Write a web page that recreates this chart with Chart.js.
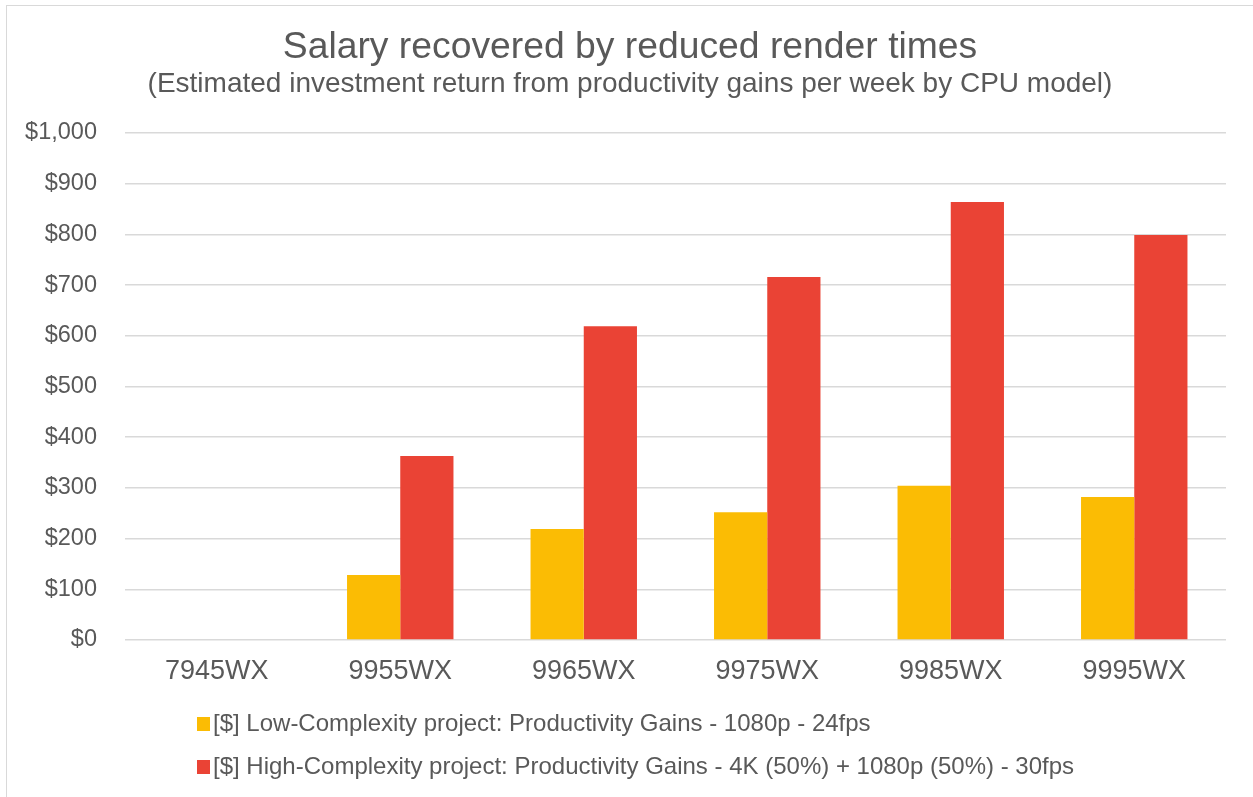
<!DOCTYPE html>
<html>
<head>
<meta charset="utf-8">
<script src="https://cdn.jsdelivr.net/npm/chart.js@4/dist/chart.umd.min.js"></script>
<style>
  html, body { margin: 0; padding: 0; background: #fff; }
  #frame { position: absolute; left: 6px; top: 5px; width: 1400px; height: 900px; border: 1px solid #d9d9d9; }
  #myChart { position: absolute; left: 0; top: 0; }
</style>
</head>
<body>
<div id="frame"></div>
<canvas id="myChart" width="1253" height="797"></canvas>
<script>
const cpuModels = ['7945WX', '9955WX', '9965WX', '9975WX', '9985WX', '9995WX'];
const lowComplexity = [0, 128, 219, 252, 304, 282];
const highComplexity = [0, 363, 619, 716, 864, 799];
const seriesNames = [
  '[$] Low-Complexity project: Productivity Gains - 1080p - 24fps',
  '[$] High-Complexity project: Productivity Gains - 4K (50%) + 1080p (50%) - 30fps'
];
const seriesColors = ['#FBBC04', '#EA4335'];

const textColor = '#595959';
const fontFamily = '"Liberation Sans", Arial, sans-serif';

// the original title is centred a bit right of the canvas middle
const titleShift = {
  id: 'titleShift',
  afterLayout(chart) {
    chart.boxes.filter((box) => box.position === 'top').forEach((box) => {
      box.left = 34;
    });
  }
};

// legend drawn under the axis, rows left-aligned like the original
const bottomLegend = {
  id: 'bottomLegend',
  afterDraw(chart) {
    const ctx = chart.ctx;
    const area = chart.chartArea;
    ctx.save();
    ctx.font = '24px ' + fontFamily;
    ctx.textBaseline = 'middle';
    ctx.textAlign = 'left';
    chart.data.datasets.forEach((set, i) => {
      const y = area.bottom + 84 + i * 43;
      const x = area.left + 72;
      ctx.fillStyle = set.backgroundColor;
      ctx.fillRect(x, y - 7, 13, 14);
      ctx.fillStyle = textColor;
      ctx.fillText(set.label, x + 16, y);
    });
    ctx.restore();
  }
};

function initChart(target) {
  const data = {
    labels: cpuModels,
    datasets: [
      { label: seriesNames[0], data: lowComplexity, backgroundColor: seriesColors[0] },
      { label: seriesNames[1], data: highComplexity, backgroundColor: seriesColors[1] }
    ]
  };

  const config = {
    type: 'bar',
    data: data,
    plugins: [titleShift, bottomLegend],
    options: {
      responsive: false,
      animation: false,
      categoryPercentage: 0.58,
      barPercentage: 1.0,
      layout: { padding: { top: 0, left: 0, right: 27, bottom: 0 } },
      plugins: {
        legend: { display: false },
        tooltip: { enabled: false },
        title: {
          display: true,
          text: 'Salary recovered by reduced render times',
          color: textColor,
          font: { family: fontFamily, size: 37.3, weight: 'normal', lineHeight: 1 },
          padding: { top: 28.85, bottom: 0 }
        },
        subtitle: {
          display: true,
          text: '(Estimated investment return from productivity gains per week by CPU model)',
          color: textColor,
          font: { family: fontFamily, size: 28, weight: 'normal', lineHeight: 1 },
          padding: { top: 4, bottom: 34.85 }
        }
      },
      scales: {
        x: {
          grid: { display: false, drawTicks: false },
          border: { display: false },
          ticks: { color: textColor, padding: 15, font: { family: fontFamily, size: 27 } },
          afterFit: (scale) => { scale.height = 157; }
        },
        y: {
          min: 0,
          max: 1000,
          grid: { color: '#d9d9d9', lineWidth: 1.5, drawTicks: false },
          border: { display: false },
          ticks: {
            stepSize: 100,
            color: textColor,
            padding: 28,
            font: { family: fontFamily, size: 23.5 },
            callback: (value) => '$' + value.toLocaleString('en-US')
          },
          afterFit: (scale) => { scale.width = 125; }
        }
      }
    }
  };

  return new Chart(target, config);
}

document.addEventListener('DOMContentLoaded', () => {
  initChart(document.querySelector('#myChart'));
});
</script>
</body>
</html>
